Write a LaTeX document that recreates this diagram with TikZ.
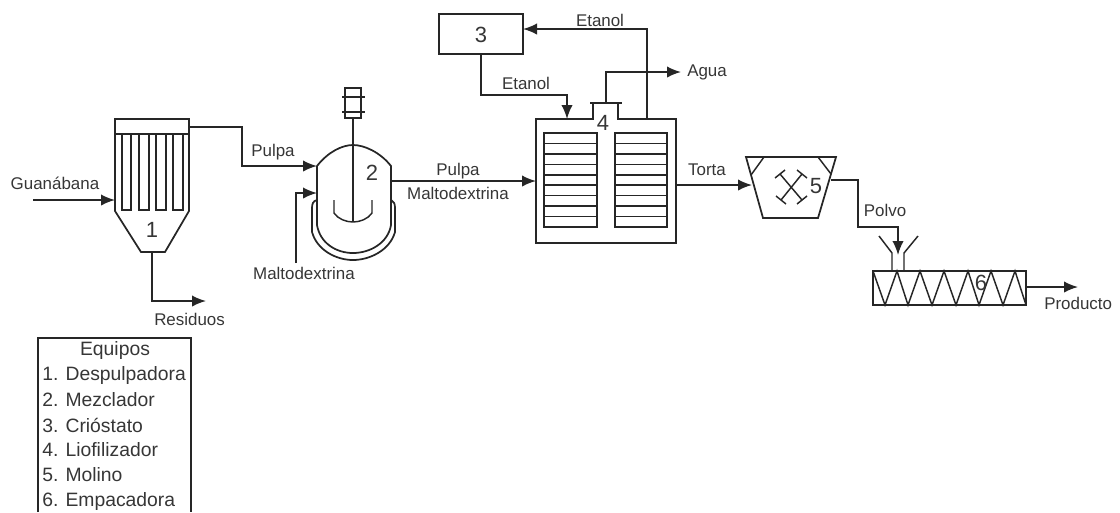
\documentclass[tikz,border=0pt]{standalone}
\usepackage{fontspec}
\setmainfont{Liberation Sans}
\usetikzlibrary{arrows.meta}
\definecolor{ink}{HTML}{262626}
\definecolor{txt}{HTML}{363636}
\tikzset{
  unit/.style={draw=ink,line width=1.3pt,line join=miter},
  thin unit/.style={draw=ink,line width=1.1pt},
  flow/.style={draw=ink,line width=1.2pt,-{Latex[length=10.5pt,width=8.5pt]}},
  lbl/.style={text=txt,inner sep=0pt,font=\fontsize{12.7}{15}\selectfont},
  leg/.style={text=txt,inner sep=0pt,font=\fontsize{14.5}{17}\selectfont},
  num/.style={text=txt,inner sep=0pt,font=\fontsize{16.5}{18}\selectfont},
}
\begin{document}
\begin{tikzpicture}[x=.75pt,y=-.75pt]
\useasboundingbox (0,0) rectangle (1120,512);

% key points
\coordinate (feedS) at (33,200);
\coordinate (feedE) at (115,200);
\coordinate (d1out) at (189,127);
\coordinate (d1bot) at (152,252);
\coordinate (resE) at (206,301);
\coordinate (bend1) at (242,166);
\coordinate (mixIn1) at (317,166);
\coordinate (mixIn2) at (317,193);
\coordinate (maltS) at (296,263);
\coordinate (mixOut) at (391,181);
\coordinate (lyoIn) at (536,181);
\coordinate (lyoOutE) at (676,185);
\coordinate (crioS) at (481,54);
\coordinate (crioE) at (523,29);
\coordinate (bend2) at (567,95);
\coordinate (lyoEt) at (567,119);
\coordinate (lyoRet) at (647,119);
\coordinate (lyoNeck) at (606,103);
\coordinate (aguaE) at (681,72);
\coordinate (millIn) at (752,185);
\coordinate (millOut) at (831,180);
\coordinate (bend3) at (858,227);
\coordinate (hopper) at (898,255);
\coordinate (scrOut) at (1026,287);
\coordinate (prodE) at (1078,287);

% 1 Despulpadora
\draw[unit] (115,119) rectangle (189,134);
\draw[unit] (115,134) -- (115,211) -- (141,252) -- (165,252) -- (189,211) -- (189,134);
\foreach \a/\b in {122/131,139/149,156/166,173/183}
  \draw[thin unit] (\a,134) -- (\a,210) -- (\b,210) -- (\b,134);
\node[num] (n1) at (152,230) {1};

% 2 Mezclador
\draw[unit] (317,166) .. controls (328,152) and (342,145) .. (353,145) .. controls (364,145) and (380,152) .. (391,166)
  -- (391,225) .. controls (388,243) and (370,253) .. (353,253) .. controls (336,253) and (320,243) .. (317,225) -- cycle;
\draw[unit] (317,200) .. controls (313,201) and (312,204) .. (312,208) -- (312,232)
  .. controls (317,250) and (336,260) .. (353,260) .. controls (370,260) and (390,250) .. (395,232)
  -- (395,208) .. controls (395,204) and (394,201) .. (391,200);
\draw[thin unit] (345,88) rectangle (361,118);
\draw[thin unit] (342,97) -- (365,97) (342,112) -- (365,112);
\draw[thin unit] (353,118) -- (353,222);
\draw[thin unit] (334,200) -- (334,213) .. controls (338,219) and (346,222) .. (353,222)
  .. controls (360,222) and (368,219) .. (372,213) -- (372,200);
\node[num] (n2) at (372,173) {2};

% 3 Criostato
\draw[unit] (439,14) rectangle (523,54);
\node[num] (n3) at (481,35) {3};

% 4 Liofilizador
\draw[unit] (590,103) -- (622,103);
\draw[unit] (593,103) -- (593,119) -- (536,119) -- (536,243) -- (676,243) -- (676,119) -- (618,119) -- (618,103);
\node[num] (n4) at (603,123) {4};
\foreach \a/\b in {544/597,615/667}{
  \draw[thin unit] (\a,133) rectangle (\b,227);
  \foreach \i in {1,...,8}
    \draw[thin unit] (\a,133+\i*10.44) -- (\b,133+\i*10.44);
}

% 5 Molino
\draw[unit] (746,157) -- (836,157) -- (818,218) -- (763,218) -- cycle;
\draw[thin unit] (764,157) -- (751,175) (818,157) -- (831,174);
\draw[thin unit] (780,174) -- (802,200) (802,174) -- (781,200);
\draw[thin unit] (775,178) -- (785,170) (797,170) -- (807,178);
\draw[thin unit] (776,196) -- (786,204) (797,204) -- (807,196);
\node[num] (n5) at (816,186) {5};

% 6 Empacadora
\draw[unit] (873,271) rectangle (1026,305);
\draw[thin unit] (873,271) -- (885,305) -- (897,271) -- (908,305) -- (920,271) -- (932,305) -- (944,271)
  -- (956,305) -- (968,271) -- (979,305) -- (991,271) -- (1003,305) -- (1015,271) -- (1026,305);
\draw[thin unit] (879,236) -- (892,253) -- (892,271);
\draw[thin unit] (918,236) -- (904,253) -- (904,271);
\node[num] (n6) at (981,283) {6};

% connectors
\draw[flow] (feedS) -- (feedE);
\draw[flow] (d1bot) |- (resE);
\draw[flow] (d1out) -| (bend1) -- (mixIn1);
\draw[flow] (maltS) |- (mixIn2);
\draw[flow] (mixOut) -- (lyoIn);
\draw[flow] (lyoRet) |- (crioE);
\draw[flow] (crioS) |- (bend2) -- (lyoEt);
\draw[flow] (lyoNeck) |- (aguaE);
\draw[flow] (lyoOutE) -- (millIn);
\draw[flow] (millOut) -| (bend3) -| (hopper);
\draw[flow] (scrOut) -- (prodE);

% labels
\node[lbl] (l1) at (55,183) {Guanábana};
\node[lbl,anchor=west] (l2) at (154,319) {Residuos};
\node[lbl] (l3) at (273,152) {Pulpa};
\node[lbl] (l4) at (304,273) {Maltodextrina};
\node[lbl] (l5) at (458,171) {Pulpa};
\node[lbl] (l6) at (458,193) {Maltodextrina};
\node[lbl] (l7) at (600,20) {Etanol};
\node[lbl] (l8) at (526,83) {Etanol};
\node[lbl,anchor=west] (l9) at (687,72) {Agua};
\node[lbl] (l10) at (707,170) {Torta};
\node[lbl] (l11) at (885,210) {Polvo};
\node[lbl,anchor=west] (l12) at (1044,303) {Producto};

% legend
\draw[unit] (38,512) -- (38,338) -- (191,338) -- (191,512);
\node[leg] (e0) at (115,350) {Equipos};
\node[leg,anchor=west] (e1) at (42,375) {1. Despulpadora};
\node[leg,anchor=west] (e2) at (42,400) {2. Mezclador};
\node[leg,anchor=west] (e3) at (42,425) {3. Crióstato};
\node[leg,anchor=west] (e4) at (42,450) {4. Liofilizador};
\node[leg,anchor=west] (e5) at (42,475) {5. Molino};
\node[leg,anchor=west] (e6) at (42,501) {6. Empacadora};
\end{tikzpicture}
\end{document}
